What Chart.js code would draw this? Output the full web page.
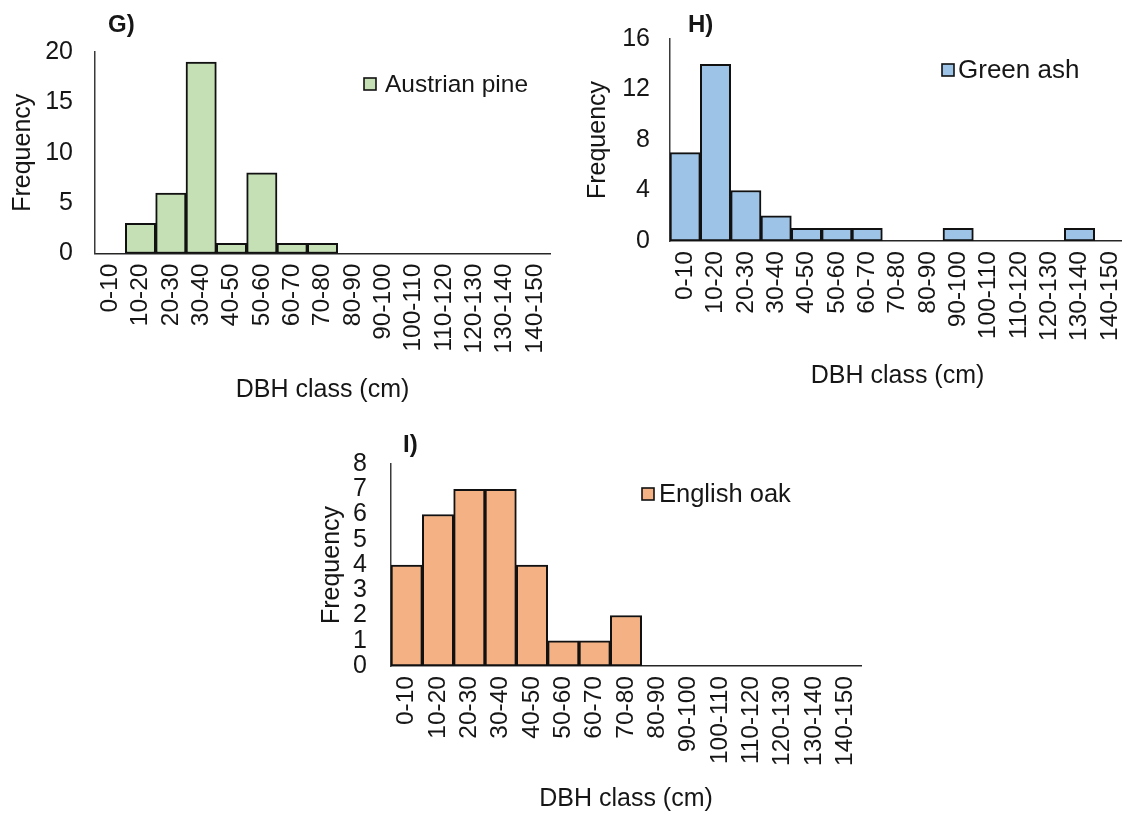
<!DOCTYPE html>
<html>
<head>
<meta charset="utf-8">
<script src="https://cdn.jsdelivr.net/npm/chart.js@4/dist/chart.umd.min.js"></script>
<style>
  html, body { margin: 0; padding: 0; background: #fff; overflow: hidden; width: 1122px; height: 814px; }
  .panel { position: absolute; }
</style>
</head>
<body>
<div class="panel" style="left:0px;top:0px;width:560px;height:410px"><canvas id="chartG"></canvas></div>
<div class="panel" style="left:570px;top:0px;width:560px;height:400px"><canvas id="chartH"></canvas></div>
<div class="panel" style="left:300px;top:415px;width:580px;height:399px"><canvas id="chartI"></canvas></div>
<script>
// DBH classes (cm) shared by all three histograms
const dbhClasses = ['0-10', '10-20', '20-30', '30-40', '40-50', '50-60', '60-70', '70-80',
  '80-90', '90-100', '100-110', '110-120', '120-130', '130-140', '140-150'];

// Tree counts per DBH class
const austrianPine = [0, 3, 6, 19, 1, 8, 1, 1, 0, 0, 0, 0, 0, 0, 0];
const greenAsh     = [7, 14, 4, 2, 1, 1, 1, 0, 0, 1, 0, 0, 0, 1, 0];
const englishOak   = [4, 6, 7, 7, 4, 1, 1, 2, 0, 0, 0, 0, 0, 0, 0];

// Frequency axis ticks for each panel
const ticksG = [0, 5, 10, 15, 20];
const ticksH = [0, 4, 8, 12, 16];
const ticksI = [0, 1, 2, 3, 4, 5, 6, 7, 8];

const FONT = "'Liberation Sans', Arial, sans-serif";
const TEXT = '#161616';

// Panel letter and a single-entry legend drawn on top of each chart
const panelDecor = {
  id: 'panelDecor',
  afterDraw(chart, args, o) {
    const ctx = chart.ctx;
    const ds = chart.data.datasets[0];
    ctx.save();
    ctx.fillStyle = TEXT;
    ctx.textBaseline = 'middle';
    ctx.textAlign = 'left';
    ctx.font = 'bold 24px ' + FONT;
    ctx.fillText(o.letter, o.letterX, o.letterY);
    ctx.fillStyle = ds.backgroundColor;
    ctx.fillRect(o.legendX, o.legendY, 12, 12);
    ctx.strokeStyle = '#111';
    ctx.lineWidth = 1.6;
    ctx.strokeRect(o.legendX, o.legendY, 12, 12);
    ctx.fillStyle = TEXT;
    ctx.font = o.legendSize + 'px ' + FONT;
    ctx.fillText(ds.label, o.legendX + 12 + o.gap, o.legendY + 7);
    ctx.restore();
  }
};

function makeHistogram(id, label, values, color, yTicks, g) {
  const yMax = yTicks[yTicks.length - 1];
  return new Chart(document.getElementById(id), {
    type: 'bar',
    data: {
      labels: dbhClasses,
      datasets: [{
        label: label,
        data: values,
        backgroundColor: color,
        borderColor: '#111',
        borderWidth: 2,
        borderSkipped: false,
        barPercentage: 1,
        categoryPercentage: 1
      }]
    },
    options: {
      responsive: true,
      maintainAspectRatio: false,
      animation: false,
      devicePixelRatio: 1,
      layout: { padding: { left: 0, top: g.padTop, right: g.padRight, bottom: 0 } },
      plugins: {
        legend: { display: false },
        tooltip: { enabled: false },
        panelDecor: g.decor
      },
      scales: {
        x: {
          grid: { display: false, drawTicks: false },
          border: { display: true, color: '#262626', width: 1.6 },
          ticks: {
            color: TEXT, font: { family: FONT, size: 24.5 },
            minRotation: 90, maxRotation: 90, autoSkip: false, padding: g.xTickPad
          },
          title: {
            display: true, text: 'DBH class (cm)', color: TEXT,
            font: { family: FONT, size: 25 }, padding: { top: 0, bottom: g.xTitlePad }
          },
          afterFit(scale) {
            scale.height = g.xHeight;
            scale.paddingLeft = 0;
            scale.paddingRight = 0;
          }
        },
        y: {
          min: 0, max: yMax,
          grid: { display: false, drawTicks: false },
          border: { display: true, color: '#3a3a3a', width: 1.5 },
          ticks: { color: TEXT, font: { family: FONT, size: 25 }, padding: g.yTickPad, autoSkip: false },
          afterBuildTicks(scale) { scale.ticks = yTicks.map(v => ({ value: v })); },
          title: {
            display: true, text: 'Frequency', color: TEXT,
            font: { family: FONT, size: 25 }, padding: { top: g.yTitlePad, bottom: 0 }
          },
          afterFit(scale) {
            scale.width = g.yWidth;
            scale.paddingTop = 0;
            scale.paddingBottom = 0;
          }
        }
      }
    },
    plugins: [panelDecor]
  });
}

makeHistogram('chartG', 'Austrian pine', austrianPine, '#C5E0B4', ticksG, {
  padTop: 52, padRight: 10, yWidth: 95, xHeight: 156.5,
  xTickPad: 10, xTitlePad: 5, yTickPad: 22, yTitlePad: 8,
  decor: { letter: 'G)', letterX: 108, letterY: 25, legendX: 364, legendY: 78, gap: 9, legendSize: 24.5 }
});

makeHistogram('chartH', 'Green ash', greenAsh, '#9DC3E6', ticksH, {
  padTop: 39, padRight: 5, yWidth: 100, xHeight: 159,
  xTickPad: 10, xTitlePad: 9, yTickPad: 20, yTitlePad: 13,
  decor: { letter: 'H)', letterX: 118, letterY: 25, legendX: 372, legendY: 64, gap: 4, legendSize: 26 }
});

makeHistogram('chartI', 'English oak', englishOak, '#F4B183', ticksI, {
  padTop: 49, padRight: 19, yWidth: 91, xHeight: 148,
  xTickPad: 10, xTitlePad: 0, yTickPad: 24, yTitlePad: 17,
  decor: { letter: 'I)', letterX: 103, letterY: 30, legendX: 342, legendY: 73, gap: 5, legendSize: 25.5 }
});
</script>
</body>
</html>
